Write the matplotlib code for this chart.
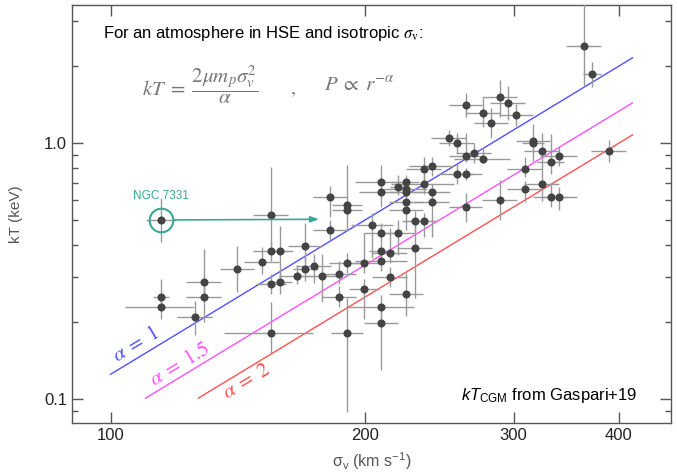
import matplotlib.pyplot as plt
import matplotlib.ticker as ticker
import numpy as np

plt.rcParams['font.family'] = ['Liberation Sans', 'DejaVu Sans']
plt.rcParams['mathtext.fontset'] = 'custom'
plt.rcParams['mathtext.rm'] = 'Liberation Sans'
plt.rcParams['mathtext.it'] = 'Liberation Sans:italic'

# sigma_v (km/s), kT (keV) with errors; first entry is NGC 7331
sigma = [114.8, 114.8, 114.8, 125.9, 128.9, 128.9, 141.3, 151.2, 155.0, 155.0,
         155.0, 155.0, 158.6, 158.6, 166.0, 170.1, 170.1, 174.0, 178.0, 182.1,
         182.1, 186.4, 186.4, 190.7, 190.7, 190.7, 190.7, 199.6, 199.6, 204.2,
         209.3, 209.3, 209.3, 209.3, 209.3, 209.3, 209.3, 214.1, 214.1, 219.0,
         219.0, 224.0, 224.0, 224.0, 224.0, 224.0, 224.0, 229.5, 229.5, 234.9,
         234.9, 234.9, 240.2, 240.2, 240.2, 251.8, 257.3, 257.3, 263.4, 263.4,
         263.4, 263.4, 269.4, 275.9, 275.9, 282.5, 289.0, 289.0, 295.6, 302.4,
         309.8, 309.8, 316.8, 316.8, 324.3, 324.3, 331.9, 331.9, 339.6, 339.6,
         363.7, 372.1, 389.6]
sigma_err = [4.8, 2.6, 10.8, 6.0, 6.1, 6.1, 6.7, 7.2, 7.4, 7.4,
             6.5, 18.7, 5.7, 5.5, 7.9, 8.1, 5.7, 8.3, 8.5, 8.4,
             8.4, 8.9, 8.9, 8.0, 8.0, 9.1, 8.5, 9.5, 8.3, 11.5,
             14.8, 12.3, 9.9, 7.0, 14.8, 19.1, 9.9, 10.2, 10.2, 4.8,
             10.4, 8.1, 13.2, 10.6, 10.6, 10.6, 10.6, 8.3, 10.9, 11.2,
             20.0, 8.5, 14.9, 12.1, 11.4, 12.0, 12.2, 12.2, 11.7, 11.7,
             11.7, 11.7, 12.8, 13.1, 21.1, 13.4, 13.7, 13.7, 14.0, 14.4,
             14.7, 14.7, 15.0, 9.5, 15.4, 15.4, 12.0, 15.8, 17.1, 17.1,
             17.3, 9.2, 18.5]
kT = [0.502, 0.252, 0.229, 0.209, 0.288, 0.252, 0.323, 0.345, 0.525, 0.380,
      0.282, 0.182, 0.380, 0.288, 0.302, 0.397, 0.323, 0.332, 0.302, 0.615,
      0.459, 0.309, 0.252, 0.574, 0.549, 0.340, 0.182, 0.340, 0.269, 0.478,
      0.708, 0.644, 0.445, 0.380, 0.347, 0.229, 0.199, 0.372, 0.301, 0.675,
      0.445, 0.708, 0.661, 0.645, 0.588, 0.549, 0.257, 0.499, 0.389, 0.794,
      0.692, 0.499, 0.812, 0.644, 0.588, 1.046, 1.000, 0.759, 1.412, 0.892,
      0.759, 0.562, 0.914, 1.317, 0.872, 1.200, 1.512, 0.601, 1.441, 1.287,
      0.794, 0.661, 1.024, 1.000, 0.933, 0.692, 0.847, 0.617, 0.892, 0.617,
      2.392, 1.865, 0.933]
kT_lo = [0.091, 0.022, 0.023, 0.031, 0.036, 0.051, 0.060, 0.035, 0.124, 0.033,
         0.024, 0.031, 0.087, 0.029, 0.021, 0.050, 0.033, 0.047, 0.061, 0.101,
         0.039, 0.027, 0.022, 0.049, 0.091, 0.029, 0.093, 0.029, 0.063, 0.123,
         0.061, 0.081, 0.038, 0.026, 0.030, 0.023, 0.069, 0.032, 0.026, 0.047,
         0.080, 0.031, 0.029, 0.028, 0.041, 0.091, 0.046, 0.043, 0.141, 0.081,
         0.060, 0.067, 0.070, 0.044, 0.159, 0.072, 0.086, 0.065, 0.144, 0.047,
         0.040, 0.068, 0.079, 0.155, 0.038, 0.151, 0.247, 0.099, 0.205, 0.122,
         0.055, 0.073, 0.045, 0.150, 0.146, 0.098, 0.087, 0.053, 0.077, 0.068,
         0.722, 0.199, 0.089]
kT_hi = [0.110, 0.042, 0.022, 0.034, 0.100, 0.036, 0.074, 0.050, 0.283, 0.036,
         0.027, 0.057, 0.096, 0.033, 0.034, 0.091, 0.037, 0.038, 0.069, 0.064,
         0.043, 0.038, 0.024, 0.249, 0.041, 0.032, 0.067, 0.105, 0.025, 0.054,
         0.117, 0.060, 0.042, 0.028, 0.033, 0.026, 0.029, 0.094, 0.028, 0.077,
         0.055, 0.046, 0.030, 0.030, 0.044, 0.041, 0.054, 0.047, 0.111, 0.090,
         0.065, 0.037, 0.076, 0.048, 0.044, 0.078, 0.094, 0.071, 0.161, 0.205,
         0.042, 0.077, 0.086, 0.190, 0.099, 0.173, 0.250, 0.118, 0.238, 0.135,
         0.090, 0.049, 0.169, 0.046, 0.164, 0.092, 0.243, 0.084, 0.084, 0.058,
         1.190, 0.222, 0.098]

# kT = 2 mu m_p sigma^2 / alpha
mu = 0.6
m_p = 1.6726e-24   # g
keV = 1.602e-9     # erg
alphas = [1, 1.5, 2]
line_start = [100, 110, 127]
line_end = 415
line_colors = ['#5050ff', '#ff50ff', '#ff5050']
alpha_labels = [r'$\alpha\;=\;1$', r'$\alpha\;=\;1.5$', r'$\alpha\;=\;2$']
label_pos = [(107.1, 0.163), (120.9, 0.1374), (144.8, 0.1172)]

teal = '#3aa892'

fig = plt.figure(figsize=(6.77, 4.72), dpi=100)
ax = fig.add_axes([0.1064, 0.1038, 0.8848, 0.8856])

for i in range(len(alphas)):
    s = np.array([line_start[i], line_end])
    t = 2 * mu * m_p * (s * 1e5)**2 / alphas[i] / keV
    ax.plot(s, t, color=line_colors[i], lw=1.0, zorder=2)
    ax.text(label_pos[i][0], label_pos[i][1], alpha_labels[i], color=line_colors[i],
            fontsize=15, rotation=31, ha='center', va='center',
            math_fontfamily='stix', zorder=3)

ax.errorbar(sigma, kT, xerr=sigma_err, yerr=[kT_lo, kT_hi], fmt='o', ms=4.8,
            color='#444444', ecolor='#999999', elinewidth=1.0, capsize=0, zorder=4)

# NGC 7331
ax.plot(sigma[0], kT[0], 'o', ms=17, mfc='none', mec=teal, mew=1.5, zorder=5)
ax.annotate('', xy=(176.5, 0.505), xytext=(119.1, 0.502),
            arrowprops=dict(arrowstyle='-|>,head_length=0.5,head_width=0.18',
                            color=teal, lw=1.2, shrinkA=0, shrinkB=0), zorder=5)
ax.text(sigma[0], 0.62, 'NGC 7331', color=teal, fontsize=8.5, ha='center', va='center')

ax.set_xscale('log')
ax.set_yscale('log')
ax.set_xlim(90, 461)
ax.set_ylim(0.0808, 3.47)

ax.xaxis.set_major_locator(ticker.FixedLocator([100, 200, 300, 400]))
ax.xaxis.set_major_formatter(ticker.FixedFormatter(['100', '200', '300', '400']))
ax.xaxis.set_minor_locator(ticker.NullLocator())
ax.yaxis.set_major_locator(ticker.FixedLocator([0.1, 1.0]))
ax.yaxis.set_major_formatter(ticker.FixedFormatter(['0.1', '1.0']))
ax.yaxis.set_minor_locator(ticker.LogLocator(subs=np.arange(2, 10)))
ax.yaxis.set_minor_formatter(ticker.NullFormatter())
ax.tick_params(which='both', direction='in', top=True, right=True, colors='#555555',
               labelcolor='#222222', labelsize=12)
ax.tick_params(which='major', length=8, width=1)
ax.tick_params(which='minor', length=4, width=1)
for sp in ax.spines.values():
    sp.set_color('#555555')
    sp.set_linewidth(1.0)

ax.set_xlabel(r'$\mathregular{\sigma_v}$ (km s$^{\mathregular{-1}}$)', fontsize=11.5,
              color='#555555', labelpad=5)
ax.set_ylabel('kT (keV)', fontsize=11, color='#555555', labelpad=15)

ax.text(0.051, 0.933, r'For an atmosphere in HSE and isotropic $\sigma_{\rm v}$:',
        transform=ax.transAxes, fontsize=12, ha='left', va='center',
        math_fontfamily='stix')
ax.text(0.117, 0.81, r'$kT\;=\;\dfrac{2\mu m_p\sigma_v^2}{\alpha}$', transform=ax.transAxes,
        fontsize=15, color='#777777', ha='left', va='center', math_fontfamily='stix')
ax.text(0.365, 0.80, ',', transform=ax.transAxes, fontsize=14, color='#777777',
        ha='left', va='center', family='STIXGeneral')
ax.text(0.42, 0.81, r'$P\;\propto\;r^{-\alpha}$', transform=ax.transAxes,
        fontsize=15, color='#777777', ha='left', va='center', math_fontfamily='stix')

ax.text(0.943, 0.065, r'$\mathit{kT}_{\rm CGM}$ from Gaspari+19', transform=ax.transAxes,
        fontsize=12, ha='right', va='center')

fig.savefig('out.png', dpi=100)
